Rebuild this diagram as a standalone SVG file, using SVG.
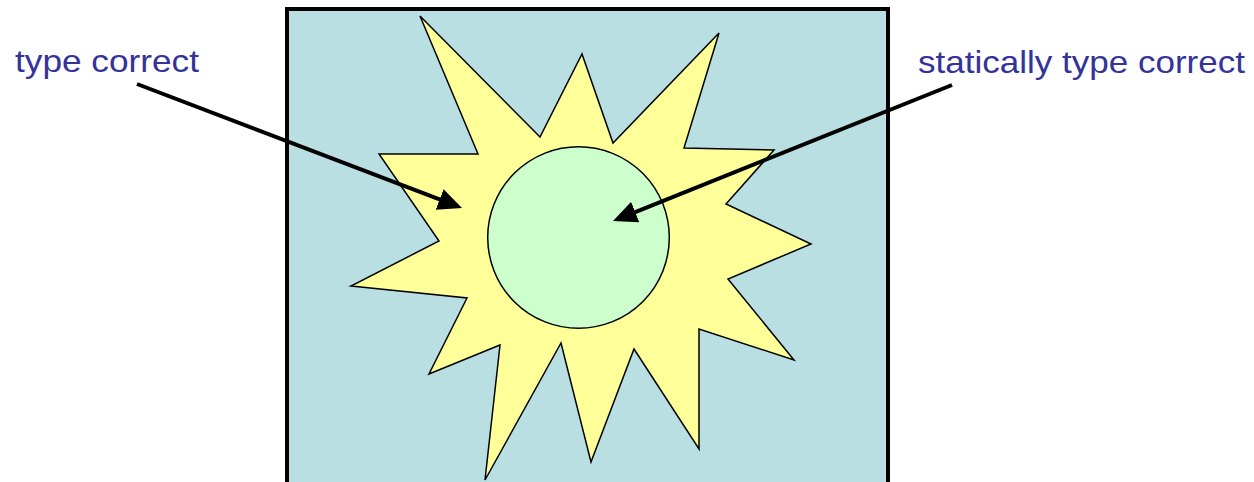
<svg xmlns="http://www.w3.org/2000/svg" width="1254" height="482" viewBox="0 0 1254 482">
  <style>
    .label { font-family: "Liberation Sans", Arial, sans-serif; font-size: 32px; fill: #333399; }
    .arrow { stroke: #000; stroke-width: 4; fill: none; marker-end: url(#head); }
  </style>
  <defs>
    <marker id="head" markerUnits="userSpaceOnUse" markerWidth="26" markerHeight="24" refX="2" refY="11" orient="auto">
      <path d="M0,0 L24,11 L0,22 z" fill="#000"/>
    </marker>
  </defs>
  <rect width="1254" height="482" fill="#fff"/>
  <g id="universe">
    <rect x="287" y="9" width="601" height="480" fill="#B9DFE3" stroke="#000" stroke-width="4"/>
  </g>
  <g id="star">
    <polygon points="420,16 540,137 582,54 613,143 719,33 684,148 774,150 726,204 811,244 728,279 794,360 699,329 699,449 634,349 591,462 561,343 485,480 500,345 429,374 467,298 351,286 439,241 379,154 478,154" fill="#FFFF99" stroke="#000" stroke-width="1.5" stroke-linejoin="miter"/>
  </g>
  <g id="circle">
    <circle cx="578.5" cy="237.5" r="90.8" fill="#CCFFCC" stroke="#000" stroke-width="1.5"/>
  </g>
  <g id="label-type-correct">
    <text class="label" x="15" y="72" textLength="184" lengthAdjust="spacingAndGlyphs">type correct</text>
  </g>
  <g id="label-statically">
    <text class="label" x="918" y="73" textLength="327" lengthAdjust="spacingAndGlyphs">statically type correct</text>
  </g>
  <g id="connectors">
    <line class="arrow" x1="137" y1="84" x2="441.5" y2="200.2"/>
    <line class="arrow" x1="952" y1="85" x2="633.4" y2="212.8"/>
  </g>
</svg>
